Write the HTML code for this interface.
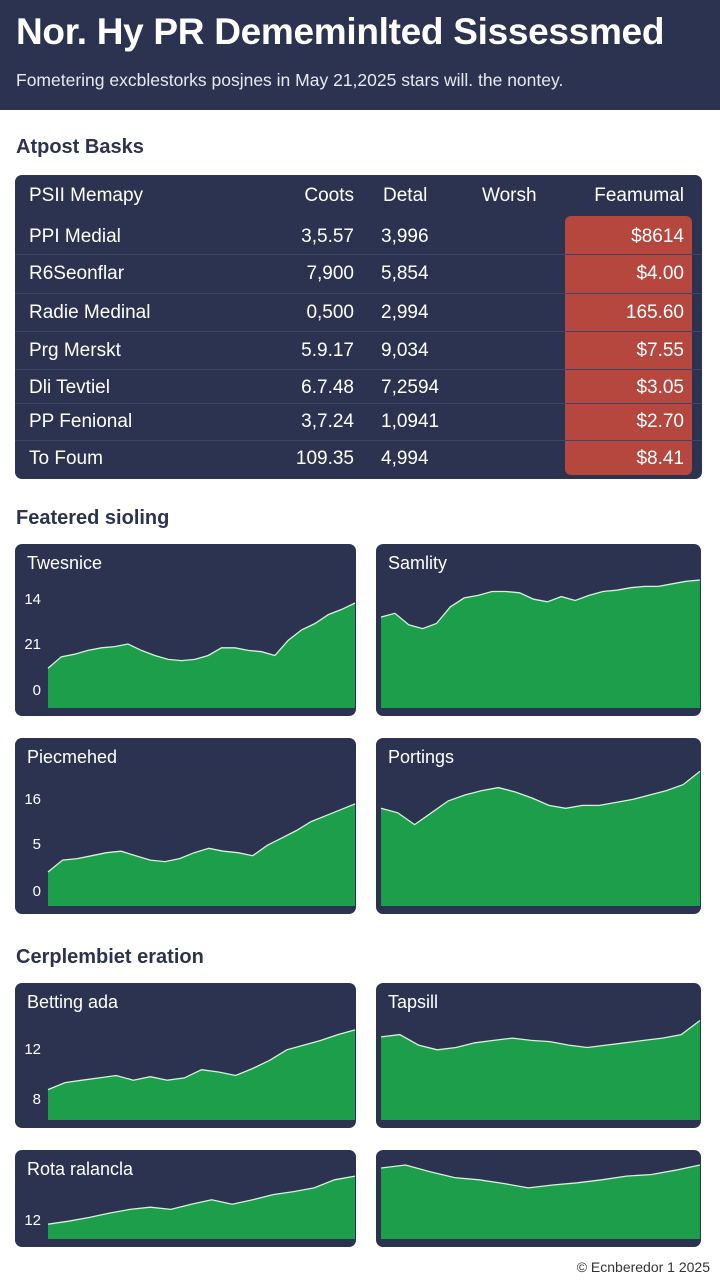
<!DOCTYPE html>
<html><head><meta charset="utf-8">
<style>
*{margin:0;padding:0;box-sizing:border-box}
body{width:720px;height:1280px;background:#fff;font-family:"Liberation Sans",sans-serif;position:relative;overflow:hidden}
.abs{position:absolute}
#hdr{left:0;top:0;width:720px;height:110px;background:#2b3350}
#title{left:16px;top:11px;font-size:37px;font-weight:bold;color:#fff;white-space:nowrap;letter-spacing:-0.3px}
#sub{left:16px;top:70px;font-size:17.5px;color:#e8eaf0;white-space:nowrap}
.sec{font-size:20px;font-weight:bold;color:#2b3350;white-space:nowrap}
#tbl{left:15px;top:175px;width:687px;height:304px;background:#2b3350;border-radius:7px}
#red{left:565px;top:216px;width:127px;height:259px;background:#b5473f;border-radius:6px}
.sep{height:1px;background:#3d4666;left:15px;width:687px}
.cell{font-size:19px;color:#fff;white-space:nowrap;line-height:22px}
.card{background:#2b3350;border-radius:7px}
.ct{font-size:18px;color:#fff;white-space:nowrap}
.yl{font-size:15px;color:#fff;text-align:right;width:24px}
#foot{right:10px;top:1259px;font-size:14px;color:#333}
</style></head><body>
<div id="hdr" class="abs"></div>
<div id="title" class="abs">Nor. Hy PR Dememinlted Sissessmed</div>
<div id="sub" class="abs">Fometering excblestorks posjnes in May 21,2025 stars will. the nontey.</div>

<div class="abs sec" style="left:16px;top:136px">Atpost Basks</div>
<div id="tbl" class="abs"></div>
<div id="red" class="abs"></div>
<div id="rows"></div>

<div class="abs sec" style="left:16px;top:507px">Featered sioling</div>
<div class="abs sec" style="left:16px;top:946px">Cerplembiet eration</div>
<div id="charts"></div>
<div id="foot" class="abs">© Ecnberedor 1 2025</div>

<script>
const rowNames=["PPI Medial","R6Seonflar","Radie Medinal","Prg Merskt","Dli Tevtiel","PP Fenional","To Foum"];
const colCoots=["3,5.57","7,900","0,500","5.9.17","6.7.48","3,7.24","109.35"];
const colDetal=["3,996","5,854","2,994","9,034","7,2594","1,0941","4,994"];
const colFeam=["$8614","$4.00","165.60","$7.55","$3.05","$2.70","$8.41"];
const rowY=[226,263,302,340,377,411,448];
const sepY=[254,293,331,369,403,440];
const R=document.getElementById('rows');
function addCell(txt,x,y,align,w){
  const d=document.createElement('div');
  d.className='abs cell';
  d.style.top=y+'px';
  if(align==='r'){d.style.left=(x-w)+'px';d.style.width=w+'px';d.style.textAlign='right';}
  else d.style.left=x+'px';
  d.textContent=txt;
  R.appendChild(d);return d;
}
let h;
h=addCell("PSII Memapy",29,185);


h=addCell("Coots",354,185,'r',80);


h=addCell("Detal",383,185);


h=addCell("Worsh",482,185);


h=addCell("Feamumal",684,185,'r',120);


sepY.forEach(y=>{const s=document.createElement('div');s.className='abs sep';s.style.top=y+'px';


R.appendChild(s);});
rowNames.forEach((n,i)=>{
  let c=addCell(n,29,rowY[i]);
  
  
  c=addCell(colCoots[i],354,rowY[i],'r',90);
  
  
  c=addCell(colDetal[i],381,rowY[i]);
  
  
  c=addCell(colFeam[i],684,rowY[i],'r',110);
  
  
});

// chart data (0-100 scale)
const titles=["Twesnice","Samlity","Piecmehed","Portings","Betting ada","Tapsill","Rota ralancla","Twesnice B"];
const s1=[31,40,42,45,47,48,50,45,41,38,37,38,41,47,47,45,44,41,53,61,66,73,77,82];
const s2=[71,74,65,62,66,79,86,88,91,91,90,85,83,87,84,88,91,92,94,95,95,97,99,100];
const s3=[23,31,32,34,36,37,34,31,30,32,36,39,37,36,34,41,46,51,57,61,65,69];
const s4=[66,63,55,63,71,75,78,80,77,73,68,66,68,68,70,72,75,78,82,91];
const s5=[26,32,34,36,38,34,37,34,36,43,41,38,44,51,60,64,68,73,77];
const s6=[71,73,64,60,62,66,68,70,68,67,64,62,64,66,68,70,73,85];
const s7=[20,24,29,35,40,43,40,47,53,47,53,60,64,69,80,85];
const s8=[96,100,91,83,80,75,69,73,76,80,85,87,93,100];
const ticks1=["14","21","0"],ticks3=["16","5","0"],ticks5=["12","8"],ticks7=["12"];
const series=[s1,s2,s3,s4,s5,s6,s7,s8];
const tickSets=[ticks1,null,ticks3,null,ticks5,null,ticks7,null];
const cards=[[15,544,341,172],[376,544,325,172],[15,738,341,176],[376,738,325,176],[15,983,341,145],[376,983,325,145],[15,1150,341,97],[376,1150,325,97]];
const plotTop=[36,36,20,20,20,20,15,15];
const tickY=[[56,101,147],null,[62,107,154],null,[67,117],null,[71],null];
const C=document.getElementById('charts');
const NS='http://www.w3.org/2000/svg';
series.forEach((data,k)=>{
  const [cx,cy,cw,ch]=cards[k];
  const card=document.createElement('div');
  card.className='abs card';
  card.style.cssText+=`left:${cx}px;top:${cy}px;width:${cw}px;height:${ch}px`;
  
  
  const svg=document.createElementNS(NS,'svg');
  svg.setAttribute('width',cw);svg.setAttribute('height',ch);
  svg.style.position='absolute';svg.style.left='0';svg.style.top='0';
  const left=(k%2===0 && k!==7)?33:5, right=cw-1, bottom=ch-8, top=plotTop[k];
  const xs=i=>left+(right-left)*i/(data.length-1);
  const ys=v=>bottom-(bottom-top)*v/100;
  let d=`M${left},${bottom}`;
  data.forEach((v,i)=>{d+=` L${xs(i).toFixed(1)},${ys(v).toFixed(1)}`;});
  d+=` L${right},${bottom} Z`;
  const area=document.createElementNS(NS,'path');
  area.setAttribute('d',d);area.setAttribute('fill','#1c9e4b');
  
  
  svg.appendChild(area);
  const line=document.createElementNS(NS,'polyline');
  line.setAttribute('points',data.map((v,i)=>xs(i).toFixed(1)+','+ys(v).toFixed(1)).join(' '));
  line.setAttribute('fill','none');line.setAttribute('stroke','#d8f0dc');line.setAttribute('stroke-width','1.3');
  
  
  svg.appendChild(line);
  card.appendChild(svg);
  if(k!==7){
    const t=document.createElement('div');
    t.className='abs ct';t.style.left='12px';t.style.top='9px';t.textContent=titles[k];
    
    
    card.appendChild(t);
  }
  const tk=tickSets[k];
  if(tk){tk.forEach((lab,j)=>{
    const l=document.createElement('div');
    l.className='abs yl';l.style.left='2px';l.style.top=(tickY[k][j]-9)+'px';l.textContent=lab;
    
    
    card.appendChild(l);
  });}
  C.appendChild(card);
});
</script>
</body></html>
